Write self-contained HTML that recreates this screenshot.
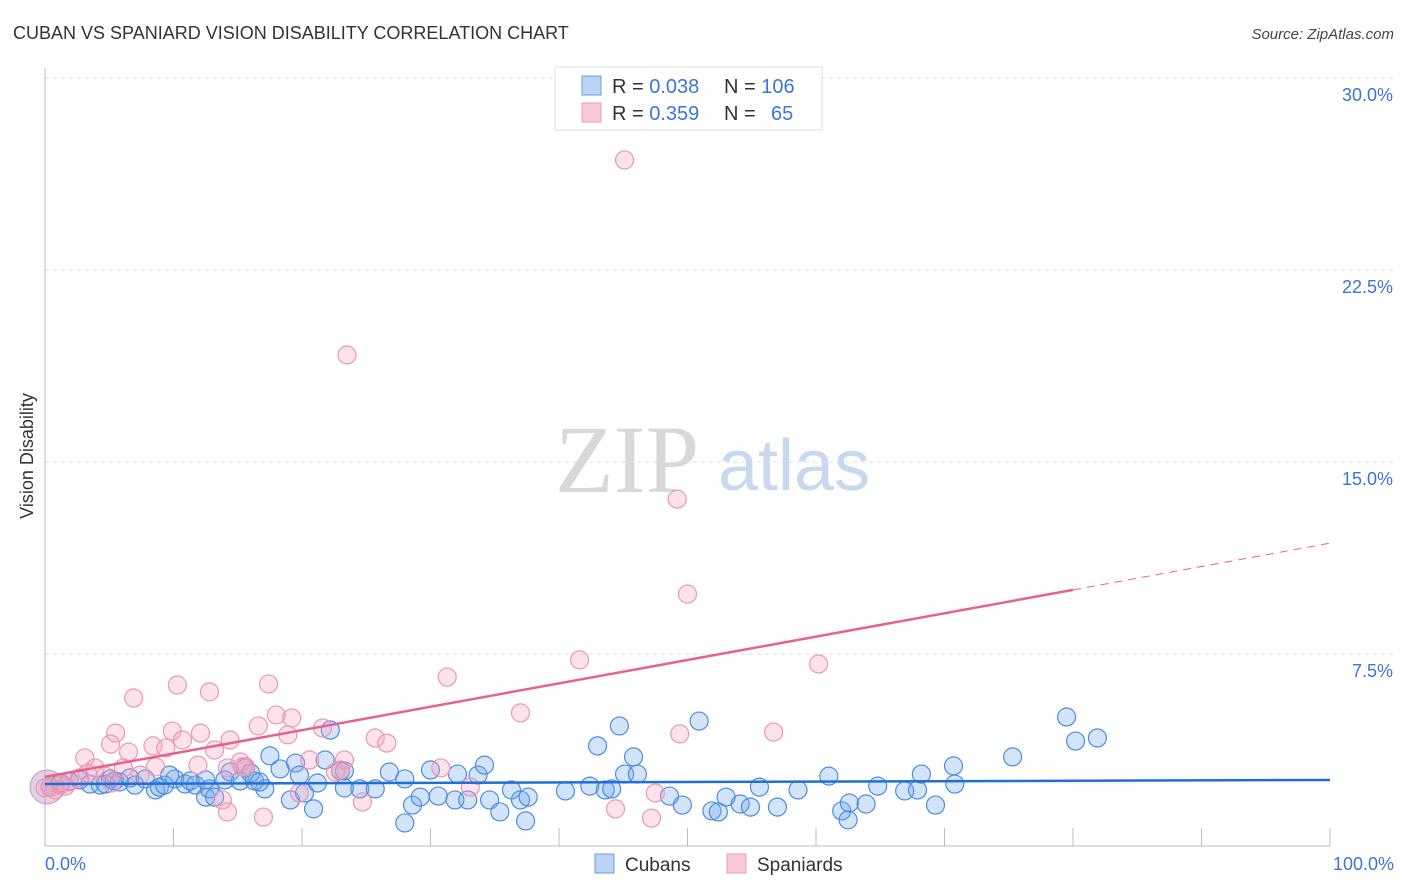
<!DOCTYPE html>
<html><head><meta charset="utf-8"><style>
body{margin:0;background:#fff;font-family:"Liberation Sans",sans-serif;}
svg{display:block}
</style></head><body>
<svg id="chart" width="1406" height="892" xmlns="http://www.w3.org/2000/svg" font-family="Liberation Sans, sans-serif">
<text x="13" y="39" font-size="18" fill="#333">CUBAN VS SPANIARD VISION DISABILITY CORRELATION CHART</text>
<text x="1394" y="39" font-size="15" fill="#444" text-anchor="end" font-style="italic">Source: ZipAtlas.com</text>
<g>
<text x="555" y="492" font-size="96" font-family="Liberation Serif, serif" fill="#d8d8d8">ZIP</text>
<text x="718" y="490" font-size="72" fill="#c6d9f1">atlas</text>
</g>
<g id="grid"></g>
<line x1="45" y1="68" x2="45" y2="846" stroke="#bbb"/>
<line x1="45" y1="846" x2="1330" y2="846" stroke="#bbb"/>
<g id="ticks"></g>
<text transform="translate(33,456) rotate(-90)" font-size="18" fill="#333" text-anchor="middle">Vision Disability</text>
<text x="45" y="870" font-size="18" fill="#3a75d9">0.0%</text>
<text x="1394" y="870" font-size="18" fill="#3a75d9" text-anchor="end">100.0%</text>
<circle cx="47" cy="787" r="17" fill="rgba(190,150,200,0.45)" stroke="#c89ac0"/>
<g id="points"></g>
<g id="lines"></g>
<g>
<rect x="555" y="67" width="267" height="63" fill="#fff" stroke="#ddd"/>
<rect x="582" y="76" width="19" height="19" fill="#bcd4f4" stroke="#6a9be0"/>
<rect x="582" y="103" width="19" height="19" fill="#f9cad8" stroke="#eb9ab4"/>
<text x="612" y="93" font-size="20" fill="#333">R = <tspan fill="#3a75d9">0.038</tspan><tspan x="724">N = </tspan><tspan fill="#3a75d9">106</tspan></text>
<text x="612" y="120" font-size="20" fill="#333">R = <tspan fill="#3a75d9">0.359</tspan><tspan x="724">N = </tspan><tspan x="771" fill="#3a75d9">65</tspan></text>
</g>
<g><rect x="595" y="854" width="19" height="19" fill="#bcd4f4" stroke="#6a9be0"/><text x="625" y="871" font-size="19" fill="#333">Cubans</text></g>
<g><rect x="727" y="854" width="19" height="19" fill="#f9cad8" stroke="#eb9ab4"/><text x="757" y="871" font-size="19" fill="#333">Spaniards</text></g>
</svg>
<script>
const yTicks=[7.5,15,22.5,30];
const yTickLabels=["7.5%","15.0%","22.5%","30.0%"];
const xTicks=[0,10,20,30,40,50,60,70,80,90,100];
const cubanX=[0.4,1.2,1.9,2.7,3.5,4.3,5.1,5.8,6.6,7.0,7.8,8.6,8.9,9.3,10.1,10.9,11.7,12.5,12.8,13.2,14.0,14.4,15.2,15.6,16.3,17.1,17.5,18.3,19.1,19.5,19.8,20.2,20.9,21.2,21.8,22.2,23.3,24.5,25.7,26.8,28.0,28.6,28.0,29.2,30.6,30.0,31.9,32.1,32.9,33.7,34.2,34.6,35.4,36.3,37.0,37.4,37.6,40.5,42.4,43.0,43.6,44.1,44.7,45.1,45.8,46.1,48.6,49.6,50.9,51.9,52.4,53.0,54.1,54.9,55.6,57.0,58.6,61.0,62.0,62.5,62.6,63.9,64.8,66.9,67.9,68.2,69.3,70.7,70.8,75.3,79.5,80.2,81.9,9.7,11.3,16.0,16.7,23.0,23.3,12.5,4.7,5.4];
const cubanY=[2.30,2.46,2.54,2.58,2.42,2.38,2.62,2.50,2.66,2.38,2.62,2.19,2.30,2.38,2.62,2.42,2.38,1.91,2.23,1.91,2.58,2.89,2.54,3.05,2.54,2.23,3.52,3.01,1.80,3.24,2.77,2.07,1.45,2.46,3.36,4.53,2.93,2.23,2.23,2.89,2.62,1.60,0.90,1.91,1.95,2.97,1.80,2.81,1.80,2.77,3.16,1.80,1.33,2.19,1.80,0.98,1.91,2.15,2.34,3.91,2.19,2.23,4.69,2.81,3.48,2.81,1.95,1.60,4.88,1.37,1.33,1.91,1.64,1.52,2.30,1.52,2.19,2.73,1.37,1.02,1.68,1.64,2.34,2.15,2.19,2.81,1.60,3.13,2.42,3.48,5.04,4.10,4.22,2.77,2.54,2.85,2.50,2.93,2.27,2.58,2.42,2.54];
const spanX=[45.1,23.5,49.2,50.0,41.6,60.2,31.3,6.9,10.3,12.8,17.4,18.0,19.2,21.6,16.6,9.9,12.1,5.5,5.1,6.5,8.4,9.4,10.7,13.2,14.4,15.2,15.6,18.9,20.6,23.3,25.7,26.6,37.0,49.4,56.7,3.1,3.9,4.7,6.1,8.6,11.9,14.2,15.4,19.8,22.6,23.0,24.7,13.8,14.2,17.0,30.8,33.1,44.4,47.5,47.2,1.2,1.9,2.7,3.3,0.4,0.8,1.6,7.4,5.2,0.0];
const spanY=[26.8,19.18,13.55,9.84,7.27,7.11,6.60,5.78,6.29,6.02,6.33,5.12,5.00,4.61,4.69,4.49,4.41,4.41,3.98,3.67,3.91,3.83,4.14,3.75,4.14,3.28,3.09,4.34,3.36,3.36,4.22,4.02,5.20,4.38,4.45,3.44,3.05,2.73,3.05,3.09,3.16,3.05,3.09,2.07,2.89,2.97,1.72,1.80,1.33,1.13,3.05,2.30,1.45,2.07,1.09,2.38,2.50,2.66,2.85,2.30,2.19,2.34,2.77,2.46,2.27];
const cubanTrend=[2.42,2.58];
const spanTrend=[2.7,11.83];
const spanSolidEnd=80;
const NS="http://www.w3.org/2000/svg";
const X=v=>45+v*12.85, Y=v=>846-v*25.6;
function mk(t,a,p){const e=document.createElementNS(NS,t);for(const k in a)e.setAttribute(k,a[k]);document.getElementById(p).appendChild(e);return e;}
yTicks.forEach((t,i)=>{
 const l=mk('line',{x1:45,x2:1394,y1:Y(t),y2:Y(t),stroke:'#ddd','stroke-dasharray':'4,4'},'grid');
 
 
 const tx=mk('text',{x:1393,y:Y(t)+23,'font-size':18,fill:'#3a75d9','text-anchor':'end'},'grid');
 tx.textContent=yTickLabels[i];
 
 
});
xTicks.forEach(t=>{
 const l=mk('line',{x1:X(t),x2:X(t),y1:828,y2:846,stroke:'#bbb'},'ticks');
 
 
});
cubanX.forEach((v,i)=>{
 const c=mk('circle',{cx:X(v),cy:Y(cubanY[i]),r:9,fill:'rgba(110,165,235,0.3)',stroke:'#4d8ce0','stroke-width':1.2},'points');
 
 
});
spanX.forEach((v,i)=>{
 const c=mk('circle',{cx:X(v),cy:Y(spanY[i]),r:9,fill:'rgba(245,160,190,0.3)',stroke:'#eb97b2','stroke-width':1.2},'points');
 
 
});
const bl=mk('line',{x1:X(0),y1:Y(cubanTrend[0]),x2:X(100),y2:Y(cubanTrend[1]),stroke:'#1f6fd6','stroke-width':2.5},'lines');


const mid=spanTrend[0]+(spanTrend[1]-spanTrend[0])*spanSolidEnd/100;
const pl=mk('line',{x1:X(0),y1:Y(spanTrend[0]),x2:X(spanSolidEnd),y2:Y(mid),stroke:'#e8608e','stroke-width':2.5},'lines');


const pd=mk('line',{x1:X(spanSolidEnd),y1:Y(mid),x2:X(100),y2:Y(spanTrend[1]),stroke:'#e8608e','stroke-width':1,'stroke-dasharray':'8,6'},'lines');


</script>
</body></html>
